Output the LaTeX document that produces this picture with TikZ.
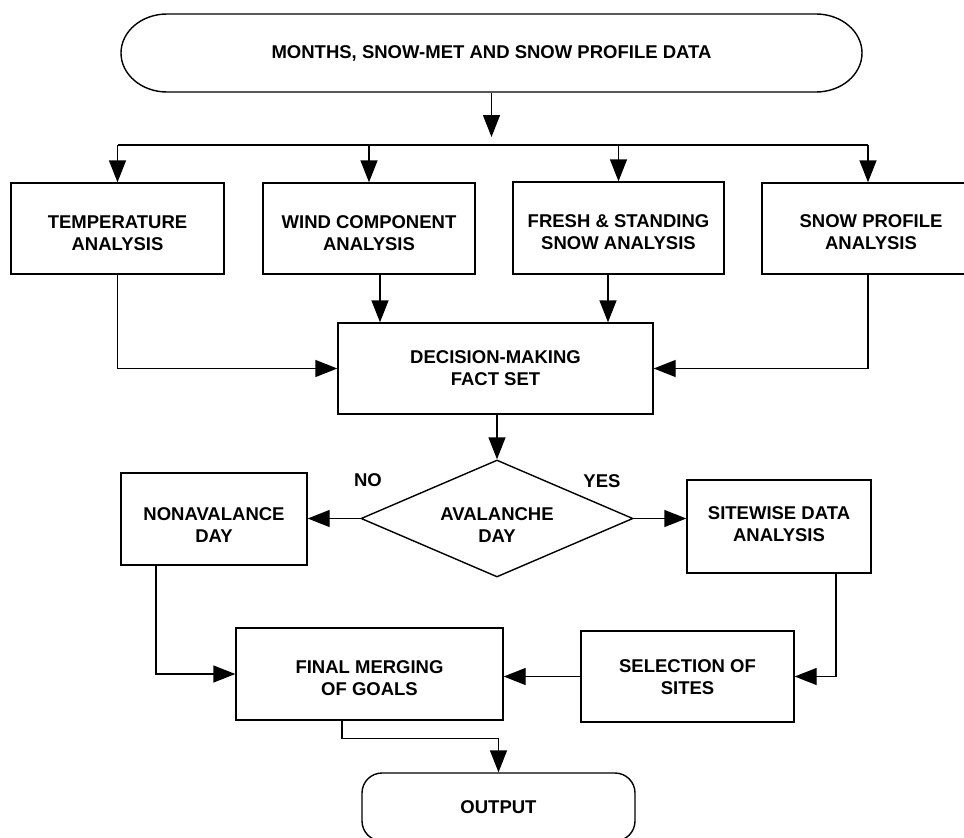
\documentclass[tikz,border=0pt]{standalone}
\usepackage{fontspec}
\setmainfont{Liberation Sans}
\usetikzlibrary{arrows.meta,shapes.geometric}
\begin{document}
\begin{tikzpicture}[x=1pt,y=-1pt,
  line width=1.4pt,
  txt/.style={font=\fontsize{18.5}{22}\selectfont\bfseries, align=center},
  procbox/.style={draw, txt, minimum width=#1, minimum height=91pt, inner sep=0pt, text depth=0pt, text height=43pt},
  decision/.style={draw, diamond, txt, aspect=2.3, minimum width=272pt, minimum height=117pt, inner sep=0pt, text depth=0pt, text height=47pt},
  terminal/.style={draw, txt, rounded corners=20pt, inner sep=0pt},
  arr/.style={-{Triangle[length=22pt,width=17pt]}}
]
\useasboundingbox (0,0) rectangle (964,838);
\fill[white] (0,0) rectangle (964,838);
\clip (0,0) rectangle (964,838);

% input terminal
\node[txt, minimum width=741pt, minimum height=78pt, inner sep=0pt] (in) at (491.5,53) {MONTHS, SNOW-MET AND SNOW PROFILE DATA};
\draw (167,14) -- (816,14) arc[start angle=-90,end angle=90,x radius=46,y radius=39]
      -- (167,92) arc[start angle=90,end angle=270,x radius=46,y radius=39] -- cycle;

% analysis boxes
\node[procbox=213pt] (temp) at (117.5,228.5) {TEMPERATURE\\ANALYSIS};
\node[procbox=212pt] (wind) at (369,228.5) {WIND COMPONENT\\ANALYSIS};
\node[procbox=211pt, minimum height=92pt, text height=42pt] (fresh) at (618.5,228) {FRESH \& STANDING\\SNOW ANALYSIS};
\node[procbox=218pt, text height=41pt] (snowp) at (871,228.5) {SNOW PROFILE\\ANALYSIS};

\node[procbox=315pt, text height=33pt] (dec) at (495.5,368.5) {DECISION-MAKING\\FACT SET};
\node[decision] (dia) at (497,518.5) {AVALANCHE\\DAY};
\node[procbox=186pt, minimum height=92pt, text height=46pt] (nonav) at (214,519) {NONAVALANCE\\DAY};
\node[procbox=184pt, minimum height=93pt, text height=29pt] (site) at (779,526.5) {SITEWISE DATA\\ANALYSIS};
\node[procbox=267pt, minimum height=92pt, text height=42pt] (final) at (369.5,674) {FINAL MERGING\\OF GOALS};
\node[procbox=213pt, text height=35pt] (sel) at (687.5,676.5) {SELECTION OF\\SITES};
\node[terminal, minimum width=273pt, minimum height=68pt] (out) at (498.5,807) {OUTPUT};

\node[txt] (no) at (368,480) {NO};
\node[txt] (yes) at (602,481) {YES};

% connectors
\coordinate (busIn) at (491.5,137);
\coordinate (busL) at (117.5,145);
\coordinate (busR) at (868,145);
\draw[arr] (in.south) -- (busIn);
\draw (busL) -- (busR);
\draw[arr] (busL) -- (temp.north);
\draw[arr] (wind.north |- busL) -- (wind.north);
\draw[arr] (fresh.north |- busL) -- (fresh.north);
\draw[arr] (busR) -- (busR |- snowp.north);

\draw[arr] (temp.south) |- (dec.west);
\draw[arr] (busR |- snowp.south) |- (dec.east);
\coordinate (w1) at ([xshift=11pt]wind.south);
\draw[arr] (w1) -- (w1 |- dec.north);
\coordinate (f1) at ([xshift=-10.5pt]fresh.south);
\draw[arr] (f1) -- (f1 |- dec.north);

\draw[arr] (dia.north |- dec.south) -- (dia.north);
\draw[arr] (dia.west) -- (dia.west -| nonav.east);
\draw[arr] (dia.east) -- (dia.east -| site.west);

\coordinate (n1) at ([xshift=-58pt]nonav.south);
\draw[arr] (n1) |- (final.west);
\coordinate (s1) at ([xshift=57pt]site.south);
\draw[arr] (s1) |- (sel.east);
\draw[arr] (sel.west) -- (sel.west -| final.east);
\coordinate (m1) at ([xshift=-27.5pt]final.south);
\draw[arr] (m1) -- ++(0,18) -| (out.north);
\end{tikzpicture}
\end{document}
